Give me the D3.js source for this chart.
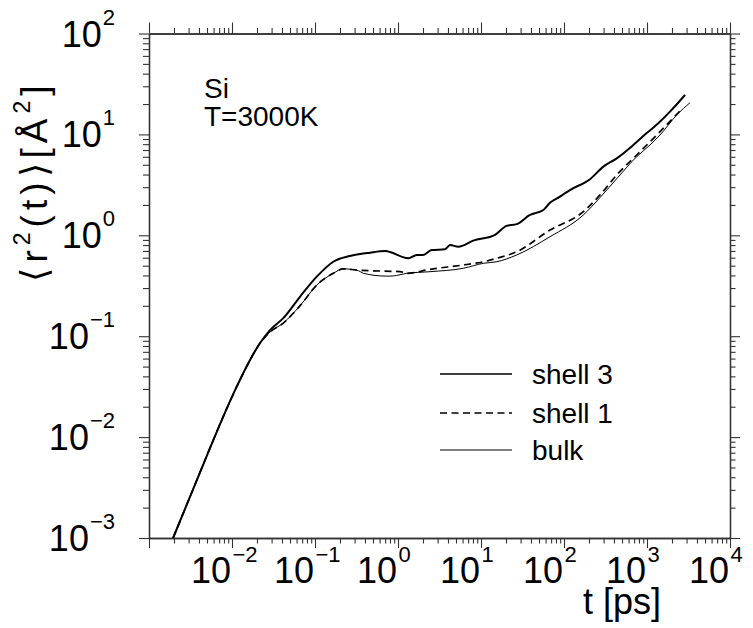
<!DOCTYPE html>
<html>
<head>
<meta charset="utf-8">
<script src="https://cdn.jsdelivr.net/npm/d3@7"></script>
<style>
  html, body { margin: 0; padding: 0; background: #fff; }
  svg { display: block; font-family: "Liberation Sans", Arial, Helvetica, sans-serif; }
</style>
</head>
<body>
<svg id="chart" width="753" height="628"></svg>
<script>
// ---------------- data ----------------
const shell3T = [0.00195, 0.00316, 0.005, 0.0078, 0.0114, 0.0165, 0.0217, 0.0287, 0.0415, 0.0659,
  0.105, 0.166, 0.264, 0.46, 0.70, 1.33, 1.68, 2.0, 2.55, 3.68, 4.24, 5.33, 8.07, 14.8, 20.3,
  26.9, 38.9, 56.4, 67.8, 89.5, 118, 206, 298, 432, 684, 991, 1368, 1892, 2871];
const shell3V = [0.001, 0.00263, 0.0066, 0.0158, 0.0316, 0.0581, 0.0851, 0.115, 0.151, 0.246,
  0.389, 0.547, 0.624, 0.673, 0.698, 0.592, 0.638, 0.638, 0.714, 0.726, 0.802, 0.771, 0.885, 1.01, 1.24,
  1.29, 1.59, 1.78, 2.10, 2.42, 2.81, 3.60, 4.79, 5.79, 7.85, 10.3, 12.9, 16.8, 24.6];

const shell1T = [0.00195, 0.00316, 0.005, 0.0078, 0.0114, 0.0165, 0.0217, 0.0287, 0.0415, 0.0659,
  0.105, 0.166, 0.219, 0.318, 0.50, 1.06, 1.27, 2.43, 6.12, 10.7, 15.5, 26.9, 67.8, 171, 272,
  432, 752, 1435, 2606];
const shell1V = [0.001, 0.00263, 0.0066, 0.0158, 0.0316, 0.0581, 0.0851, 0.110, 0.135, 0.200,
  0.321, 0.420, 0.465, 0.453, 0.445, 0.436, 0.420, 0.460, 0.508, 0.547, 0.592, 0.687, 1.127, 1.714, 2.512,
  3.963, 6.252, 10.64, 17.74];

const bulkT = [0.00195, 0.00316, 0.005, 0.0078, 0.0114, 0.0165, 0.0217, 0.0287, 0.0415, 0.0659,
  0.105, 0.166, 0.219, 0.333, 0.382, 0.729, 0.802, 1.16, 1.27, 2.43, 6.12, 10.7, 15.5, 26.9, 67.8,
  171, 272, 447, 752, 1086, 1435, 2280, 3296];
const bulkV = [0.001, 0.00263, 0.0066, 0.0158, 0.0316, 0.0581, 0.0851, 0.110, 0.135, 0.200,
  0.321, 0.420, 0.465, 0.446, 0.420, 0.394, 0.394, 0.413, 0.420, 0.436, 0.471, 0.528, 0.547, 0.638, 0.968,
  1.589, 2.371, 3.758, 6.012, 7.852, 9.863, 15.56, 20.61];

const xMajorTicks = [1e-3, 1e-2, 1e-1, 1e0, 1e1, 1e2, 1e3, 1e4];
const yMajorTicks = [1e-3, 1e-2, 1e-1, 1e0, 1e1, 1e2];
const xTickLabels = [["10", "\u22122", 1e-2], ["10", "\u22121", 1e-1], ["10", "0", 1e0], ["10", "1", 1e1],
                     ["10", "2", 1e2], ["10", "3", 1e3], ["10", "4", 1e4]];
const yTickLabels = [["10", "\u22123", 1e-3], ["10", "\u22122", 1e-2], ["10", "\u22121", 1e-1],
                     ["10", "0", 1e0], ["10", "1", 1e1], ["10", "2", 1e2]];
const seriesNames = ["shell 3", "shell 1", "bulk"];

// ---------------- layout ----------------
const L = 149, R = 730, T = 33.5, B = 538;
const svg = d3.select("#chart");
const x = d3.scaleLog().domain([1e-3, 1e4]).range([L, R]);
const y = d3.scaleLog().domain([1e-3, 1e2]).range([B, T]);

function minors(maj) {
  const out = [];
  for (let i = 0; i < maj.length - 1; i++)
    for (let k = 2; k <= 9; k++) out.push(maj[i] * k);
  return out;
}
const xMinor = minors(xMajorTicks), yMinor = minors(yMajorTicks);

function drawAxis(gen, tr, vals, size) {
  const g = svg.append("g").attr("transform", tr)
    .call(gen.tickValues(vals).tickSize(size).tickSizeOuter(0).tickFormat(""));
  g.select(".domain").attr("stroke", "#333").attr("stroke-width", 1.3);
  g.selectAll(".tick line").attr("stroke", "#333").attr("stroke-width", 1.1);
  return g;
}
drawAxis(d3.axisBottom(x), `translate(0,${B})`, xMinor, 5.5);
drawAxis(d3.axisBottom(x), `translate(0,${B})`, xMajorTicks, 10);
drawAxis(d3.axisTop(x), `translate(0,${T})`, xMinor, 5.5);
drawAxis(d3.axisTop(x), `translate(0,${T})`, xMajorTicks, 11);
drawAxis(d3.axisLeft(y), `translate(${L},0)`, yMinor, 6);
drawAxis(d3.axisLeft(y), `translate(${L},0)`, yMajorTicks, 10);
drawAxis(d3.axisRight(y), `translate(${R},0)`, yMinor, 5.5);
drawAxis(d3.axisRight(y), `translate(${R},0)`, yMajorTicks, 10);

// tick labels
const xl = svg.append("g").attr("fill", "#000");
xTickLabels.forEach(([b, e, v]) => {
  xl.append("text").attr("x", x(v) - 1).attr("y", 583).attr("text-anchor", "end")
    .attr("font-size", 36).text(b);
  xl.append("text").attr("x", x(v) + 0.5).attr("y", 562).attr("text-anchor", "start")
    .attr("font-size", 22).text(e);
});
const yl = svg.append("g").attr("fill", "#000");
yTickLabels.forEach(([b, e, v]) => {
  const t = yl.append("text").attr("x", 115).attr("y", y(v) + 13).attr("text-anchor", "end");
  t.append("tspan").attr("font-size", 36).text(b);
  t.append("tspan").attr("font-size", 22).attr("dy", -22).attr("dx", 1).text(e);
});

// axis titles
svg.append("text").attr("x", 622).attr("y", 614).attr("text-anchor", "middle")
  .attr("font-size", 36).text("t [ps]");
const yt = svg.append("text").attr("transform", "translate(47,181) rotate(-90)")
  .attr("text-anchor", "middle").attr("font-size", 37).attr("letter-spacing", 5);
yt.append("tspan").text("\u27E8r");
yt.append("tspan").attr("font-size", 23).attr("dy", -17).text("2");
yt.append("tspan").attr("dy", 17).text("(t)\u27E9[\u00C5");
yt.append("tspan").attr("font-size", 23).attr("dy", -17).text("2");
yt.append("tspan").attr("dy", 17).text("]");

// annotations
svg.append("text").attr("x", 204).attr("y", 98).attr("font-size", 28).text("Si");
svg.append("text").attr("x", 204).attr("y", 126).attr("font-size", 28).text("T=3000K");

// curves
const line = d3.line().x(d => x(d[0])).y(d => y(d[1])).curve(d3.curveMonotoneX);
const styles = [
  { w: 2.0, dash: null },
  { w: 1.7, dash: "7,4.5" },
  { w: 1.0, dash: null }
];
const data = [d3.zip(shell3T, shell3V), d3.zip(shell1T, shell1V), d3.zip(bulkT, bulkV)];
data.forEach((d, i) => {
  svg.append("path").datum(d).attr("d", line).attr("fill", "none").attr("stroke", "#000")
    .attr("stroke-width", styles[i].w).attr("stroke-dasharray", styles[i].dash)
    .attr("stroke-linejoin", "round");
});

// legend
const legY = [374, 413, 450];
seriesNames.forEach((n, i) => {
  svg.append("line").attr("x1", 440).attr("x2", 512).attr("y1", legY[i]).attr("y2", legY[i])
    .attr("stroke", "#000").attr("stroke-width", i === 0 ? 1.6 : (i === 1 ? 1.3 : 1.0))
    .attr("stroke-dasharray", i === 1 ? "7,4.5" : null);
  svg.append("text").attr("x", 532).attr("y", legY[i] + 10).attr("font-size", 28).text(n);
});
</script>
</body>
</html>
